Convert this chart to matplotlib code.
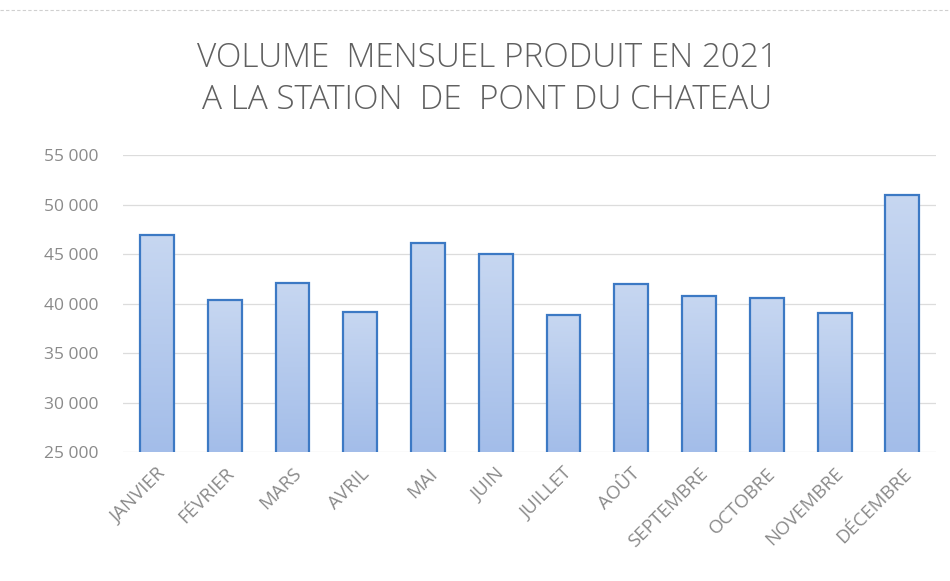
import numpy as np
import matplotlib.pyplot as plt
from matplotlib.ticker import FuncFormatter
from matplotlib.colors import LinearSegmentedColormap

# monthly volumes
months = ["JANVIER", "FÉVRIER", "MARS", "AVRIL", "MAI", "JUIN", "JUILLET",
          "AOÛT", "SEPTEMBRE", "OCTOBRE", "NOVEMBRE", "DÉCEMBRE"]
volumes = [46900, 40400, 42100, 39100, 46100, 45000, 38800,
           42000, 40800, 40600, 39000, 51000]
y_ticks = [25000, 30000, 35000, 40000, 45000, 50000, 55000]

plt.rcParams['font.family'] = ['Open Sans', 'DejaVu Sans']

fig = plt.figure(figsize=(9.5, 5.81), dpi=100)
ax = fig.add_axes([0.1295, 0.222, 0.856, 0.511])

ymin, ymax = 25000, 55000
x = np.arange(len(months))
bars = ax.bar(x, volumes, width=0.5, color='none', edgecolor='#3c79c4',
              linewidth=1.6, zorder=3)

# vertical gradient fill inside each bar (a bit lighter at top)
grad = np.linspace(0, 1, 256).reshape(-1, 1)
cmap = LinearSegmentedColormap.from_list('barfill', ['#a3bde9', '#c7d7f1'])
for b in bars:
    bx, bw, bh = b.get_x(), b.get_width(), b.get_height()
    ax.imshow(grad, cmap=cmap, origin='lower', aspect='auto',
              extent=(bx, bx + bw, ymin, bh), zorder=2)

ax.set_xlim(-0.5, len(months) - 0.5)
ax.set_ylim(ymin, ymax)
ax.set_yticks(y_ticks)
ax.yaxis.set_major_formatter(FuncFormatter(lambda v, p: f"{int(v):,}".replace(",", " ")))
ax.grid(axis='y', color='#dcdcdc', linewidth=0.9, zorder=0)
for s in ax.spines.values():
    s.set_visible(False)
ax.tick_params(axis='both', length=0, colors='#8a8a8a')
ax.tick_params(axis='y', pad=18, labelsize=12.5)
ax.set_xticks(x)
ax.set_xticklabels(months, rotation=45, ha='right', rotation_mode='anchor')
ax.tick_params(axis='x', pad=9, labelsize=13.5)

fig.text(0.513, 0.9, "VOLUME  MENSUEL PRODUIT EN 2021", ha='center', va='center',
         fontsize=24, color='#606060', fontweight='light')
fig.text(0.513, 0.828, "A LA STATION  DE  PONT DU CHATEAU", ha='center', va='center',
         fontsize=24, color='#606060', fontweight='light')

# faint border line along the top of the scan
fig.add_artist(plt.Line2D([0.0, 1.0], [0.982, 0.982], transform=fig.transFigure,
                          color='#d0d0d0', linewidth=0.8, linestyle=(0, (3, 2))))

fig.savefig("out.png", dpi=100, facecolor='white')
